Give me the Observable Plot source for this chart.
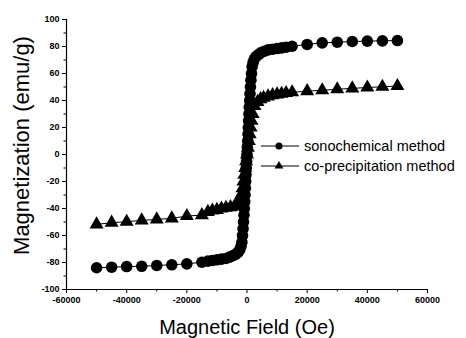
<!DOCTYPE html>
<html>
<head>
<meta charset="utf-8">
<script src="https://cdn.jsdelivr.net/npm/d3@7"></script>
<script src="https://cdn.jsdelivr.net/npm/@observablehq/plot@0.6"></script>
<style>
  html, body { margin: 0; padding: 0; background: #fff; }
  #wrap { position: relative; width: 466px; height: 338px; font-family: "Liberation Sans", Arial, sans-serif; }
  #legend { position: absolute; left: 259px; top: 136px; font-size: 14.5px; color: #000; }
  #legend .row { display: flex; align-items: center; height: 20px; white-space: nowrap; }
  #legend svg { display: block; margin-right: 3px; }
</style>
</head>
<body>
<div id="wrap"><div id="legend"></div></div>
<script>
// Sonochemical method (field in Oe, magnetization in emu/g)
const sonoField = [
  -50000, -45000, -40000, -35000, -30000, -25000, -20000, -15000,
  -13000, -11500, -10000, -8500, -7000, -5800, -4700, -3800, -3000, -2400, -2000, -1700,
  -1500, -1300, -1150, -1000, -900, -750, -650, -550, -450, -350, -250, -120, 0,
  120, 250, 350, 450, 550, 650, 750, 900, 1000, 1150, 1300, 1500,
  1700, 2000, 2400, 3000, 3800, 4700, 5800, 7000, 8500, 10000, 11500, 13000,
  15000, 20000, 25000, 30000, 35000, 40000, 45000, 50000
];
const sonoMag = [
  -83.9, -83.5, -83, -82.8, -82.2, -81.7, -81, -79.8,
  -79, -78.5, -78, -77.5, -77, -76, -75, -74, -72.5, -70.5, -68, -65,
  -60, -55, -50, -45, -40, -35, -30, -25, -20, -15, -10, -5, 0,
  5, 10, 15, 20, 25, 30, 35, 40, 45, 50, 55, 60,
  65, 68, 70.5, 72.5, 74, 75.5, 76.5, 77.5, 78, 78.5, 79, 79.5,
  80.2, 81.5, 82.7, 83.2, 83.7, 84, 84.2, 84.4
];
// Co-precipitation method
const coprecField = [
  -50000, -45000, -40000, -35000, -30000, -25000, -20000, -15000,
  -13000, -11500, -10000, -8500, -7000, -5500, -4200, -3200, -2500, -2000,
  -1500, -1200, -900, -600, -300, 0, 300, 600, 900, 1200, 1500, 1900,
  2500, 3500, 4500, 5500, 7000, 8500, 10000, 11500, 13000,
  15000, 20000, 25000, 30000, 35000, 40000, 45000, 50000
];
const coprecMag = [
  -51.8, -50.5, -49.8, -48.8, -48.1, -47.3, -45.6, -44.9,
  -42.5, -41.5, -41, -40, -39.5, -39, -38.5, -37, -34, -30,
  -25, -20, -15, -10, -5, 0, 5, 10, 15, 20, 25, 30,
  36, 39, 41, 42, 43, 44, 44.5, 45, 45.5,
  46.1, 46.9, 47.6, 48.3, 49, 49.6, 50.2, 50.7
];
const seriesNames = ["sonochemical method", "co-precipitation method"];
const xMajorTicks = [-60000, -40000, -20000, 0, 20000, 40000, 60000];
const xMinorTicks = [-50000, -30000, -10000, 10000, 30000, 50000];
const yMajorTicks = [-100, -80, -60, -40, -20, 0, 20, 40, 60, 80, 100];
const yMinorTicks = [-90, -70, -50, -30, -10, 10, 30, 50, 70, 90];
const xTitle = "Magnetic Field (Oe)";
const yTitle = "Magnetization (emu/g)";

const sono = sonoField.map((f, i) => ({field: f, mag: sonoMag[i]}));
const coprec = coprecField.map((f, i) => ({field: f, mag: coprecMag[i]}));

const font = "'Liberation Sans', Arial, sans-serif";
const chart = Plot.plot({
  width: 466,
  height: 338,
  marginLeft: 66,
  marginRight: 39,
  marginTop: 19,
  marginBottom: 49,
  style: {fontFamily: font, background: "#fff", color: "#000", overflow: "visible"},
  x: {domain: [-60000, 60000]},
  y: {domain: [-100, 100]},
  marks: [
    Plot.axisX({ticks: xMajorTicks, tickSize: 4, tickPadding: 3, fontSize: 9, fontWeight: "bold", label: null, tickFormat: d => String(d)}),
    Plot.axisX({ticks: xMinorTicks, tickSize: 2.5, text: null, label: null}),
    Plot.axisY({ticks: yMajorTicks, tickSize: 4, tickPadding: 3, fontSize: 9, fontWeight: "bold", label: null, tickFormat: d => String(d)}),
    Plot.axisY({ticks: yMinorTicks, tickSize: 2.5, text: null, label: null}),
    Plot.ruleX([-60000], {stroke: "#000", strokeWidth: 1.2}),
    Plot.ruleY([-100], {stroke: "#000", strokeWidth: 1.2}),
    Plot.line(sono, {x: "field", y: "mag", stroke: "#000", strokeWidth: 1}),
    Plot.line(coprec, {x: "field", y: "mag", stroke: "#000", strokeWidth: 1}),
    Plot.dot(coprec, {x: "field", y: "mag", symbol: "triangle", r: 5.2, fill: "#000", stroke: null}),
    Plot.dot(sono, {x: "field", y: "mag", symbol: "circle", r: 5.8, fill: "#000", stroke: null}),
    Plot.text([xTitle], {frameAnchor: "bottom", textAnchor: "middle", lineAnchor: "middle", dy: 38, fontSize: 20, fill: "#000"}),
    Plot.text([yTitle], {frameAnchor: "left", textAnchor: "middle", lineAnchor: "middle", dx: -45, dy: -9, rotate: -90, fontSize: 22, fill: "#000"})
  ]
});
document.getElementById("wrap").prepend(chart);

// Legend
const legend = d3.select("#legend");
seriesNames.forEach((name, i) => {
  const row = legend.append("div").attr("class", "row");
  const svg = row.append("svg").attr("width", 42).attr("height", 14);
  svg.append("line").attr("x1", 2).attr("x2", 40).attr("y1", 7).attr("y2", 7).attr("stroke", "#000").attr("stroke-width", 1);
  svg.append("path")
    .attr("transform", "translate(20,7)")
    .attr("d", d3.symbol(i === 0 ? d3.symbolCircle : d3.symbolTriangle, i === 0 ? 40 : 34)())
    .attr("fill", "#000");
  row.append("span").text(name);
});
</script>
</body>
</html>
